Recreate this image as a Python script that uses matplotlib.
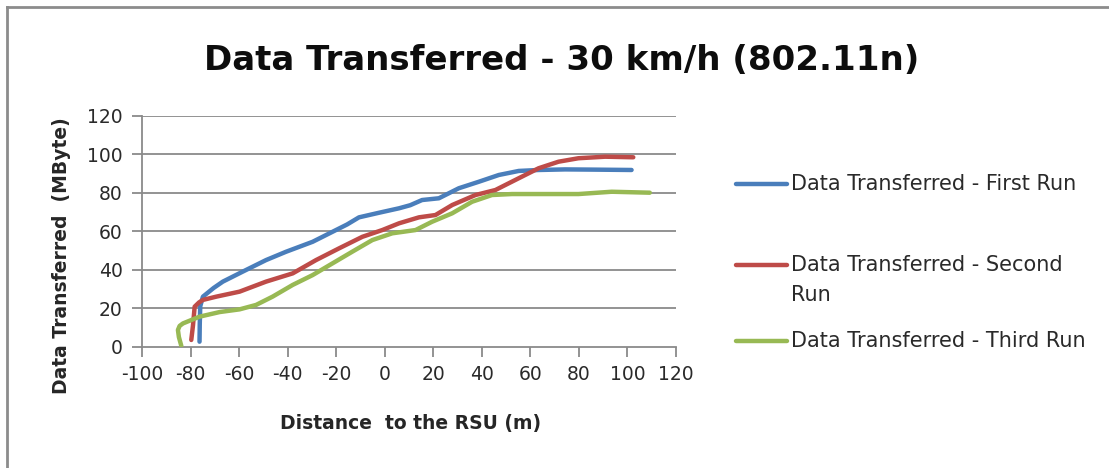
import matplotlib
matplotlib.use("Agg")
import matplotlib.pyplot as plt
from matplotlib.lines import Line2D

# Distance to the RSU (m) and cumulative data transferred (MByte) per run
first_x = [-76.3, -76.2, -76.0, -74.9, -70.5, -66.7, -58.5, -48.9, -40.7, -29.7, -21.5,
           -15.5, -10.6, -2.3, 5.9, 10.5, 15.4, 22.3, 30.5, 38.8, 47.0, 55.2, 63.4,
           74.3, 85.0, 101.7]
first_y = [2.6, 12.0, 21.0, 26.0, 30.5, 33.8, 39.0, 45.0, 49.3, 54.5, 59.7,
           63.5, 67.2, 69.6, 71.9, 73.5, 76.2, 77.1, 82.3, 85.7, 89.2, 91.3, 91.8,
           92.1, 92.0, 91.8]

second_x = [-79.7, -79.0, -78.3, -76.5, -74.9, -69.4, -59.8, -48.9, -37.9, -28.3, -18.8,
            -9.2, -1.0, 5.9, 14.1, 20.9, 27.8, 37.4, 45.6, 55.2, 63.4, 71.6, 79.8,
            90.8, 102.4]
second_y = [3.5, 11.0, 20.8, 23.0, 24.3, 26.0, 28.6, 33.8, 38.1, 45.0, 51.1,
            57.1, 60.6, 64.1, 67.2, 68.4, 73.6, 78.8, 81.4, 87.5, 92.7, 96.1, 97.9,
            98.7, 98.4]

third_x = [-83.8, -84.8, -85.2, -84.5, -83.1, -76.3, -68.0, -59.8, -53.0, -46.2, -37.9,
           -29.7, -21.5, -13.3, -5.1, 3.1, 12.7, 19.5, 27.8, 36.0, 44.2, 52.4, 66.1,
           79.8, 93.5, 109.2]
third_y = [0.4, 5.0, 8.7, 10.8, 12.1, 15.6, 18.0, 19.4, 21.7, 26.0, 32.1,
           37.2, 43.3, 49.4, 55.4, 58.9, 60.6, 64.9, 69.3, 75.3, 78.8, 79.3, 79.3,
           79.3, 80.5, 80.0]

series_labels = [["Data Transferred - First Run"],
                 ["Data Transferred - Second", "Run"],
                 ["Data Transferred - Third Run"]]
series_colors = ["#4A7EBB", "#BE4B48", "#98B954"]

x_ticks = [-100, -80, -60, -40, -20, 0, 20, 40, 60, 80, 100, 120]
y_ticks = [0, 20, 40, 60, 80, 100, 120]

title_text = "Data Transferred - 30 km/h (802.11n)"
x_label = "Distance  to the RSU (m)"
y_label = "Data Transferred  (MByte)"

plt.rcParams["font.family"] = ["DejaVu Sans"]

W, H = 1109, 468
fig = plt.figure(figsize=(W / 100, H / 100), dpi=100)
fig.patch.set_facecolor("white")

# chart-area frame (top and left edges)
fig.add_artist(Line2D([6.5 / W, 6.5 / W], [0, 1 - 6.5 / H], transform=fig.transFigure,
                      color="#8c8c8c", lw=2.0))
fig.add_artist(Line2D([6.5 / W, 1], [1 - 6.5 / H, 1 - 6.5 / H], transform=fig.transFigure,
                      color="#8c8c8c", lw=2.0))

left, right = 142 / W, 676 / W
bottom, top = 1 - 346.7 / H, 1 - 115.7 / H
ax = fig.add_axes([left, bottom, right - left, top - bottom])

grid_col = "#8a8a8a"
for yv in y_ticks[1:]:
    ax.axhline(yv, color=grid_col, lw=1.3, zorder=1)

series = [(first_x, first_y), (second_x, second_y), (third_x, third_y)]
for (xs, ys), col in zip(series, series_colors):
    ax.plot(xs, ys, color=col, lw=3.2, solid_capstyle="round",
            solid_joinstyle="round", zorder=3)

ax.set_xlim(-100, 120)
ax.set_ylim(0, 120)
ax.set_xticks(x_ticks)
ax.set_yticks(y_ticks)
ax.set_xticklabels([str(v) for v in x_ticks])
ax.set_yticklabels([str(v) for v in y_ticks])
for s in ["top", "right"]:
    ax.spines[s].set_visible(False)
for s in ["left", "bottom"]:
    ax.spines[s].set_color(grid_col)
    ax.spines[s].set_linewidth(1.3)
ax.tick_params(axis="both", direction="out", length=7, width=1.3, color=grid_col,
               labelsize=13.5, labelcolor="#2a2a2a")
ax.tick_params(axis="x", pad=6)
ax.tick_params(axis="y", pad=7)
ax.set_facecolor("white")

fig.text(562 / W, 1 - 60 / H, title_text, ha="center", va="center",
         fontsize=24.5, fontweight="bold", color="#0d0d0d")
fig.text(411 / W, 1 - 424 / H, x_label, ha="center", va="center",
         fontsize=13.5, fontweight="bold", color="#262626")
fig.text(62 / W, 1 - 256 / H, y_label, ha="center", va="center", rotation=90,
         fontsize=13.5, fontweight="bold", color="#262626")

# legend drawn at fixed figure positions
leg_rows = [184, 265, 341]
line_gap = 30
for lines, col, yp in zip(series_labels, series_colors, leg_rows):
    yf = 1 - yp / H
    fig.add_artist(Line2D([736 / W, 787 / W], [yf, yf], transform=fig.transFigure,
                          color=col, lw=3.2, solid_capstyle="round"))
    for i, txt in enumerate(lines):
        fig.text(791 / W, 1 - (yp + i * line_gap) / H, txt, ha="left", va="center",
                 fontsize=15, color="#2a2a2a")

fig.savefig("out.png", dpi=100, facecolor="white")
